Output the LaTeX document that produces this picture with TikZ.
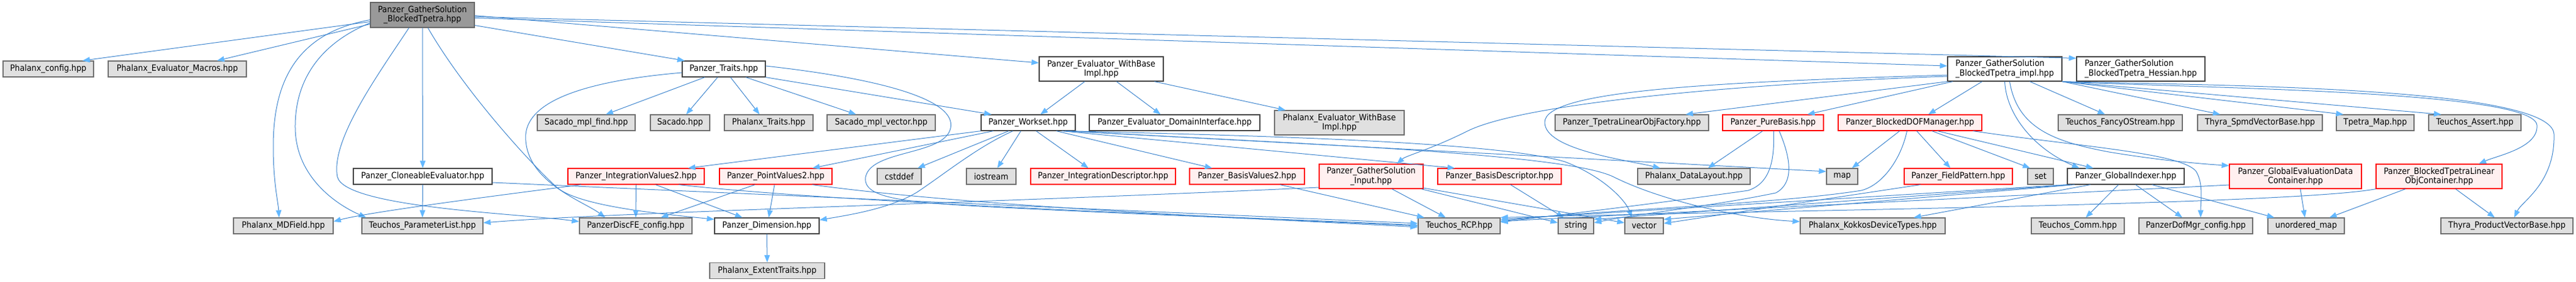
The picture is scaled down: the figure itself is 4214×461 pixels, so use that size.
\documentclass[tikz,border=0pt]{standalone}
\usepackage{fontspec}
\newfontfamily\dxfont{DejaVu Sans}[FakeStretch=0.9]
\usetikzlibrary{arrows.meta}
\definecolor{rootfill}{HTML}{999999}
\definecolor{rootdraw}{HTML}{666666}
\definecolor{extfill}{HTML}{E0E0E0}
\definecolor{extdraw}{HTML}{6E6E6E}
\definecolor{plaindraw}{HTML}{444444}
\definecolor{redfill}{HTML}{FFF0F0}
\definecolor{reddraw}{HTML}{FF0000}
\definecolor{edgeline}{HTML}{3F86CF}
\definecolor{edgetip}{HTML}{63B8FF}
\tikzset{
 basebox/.style={rectangle, inner sep=0pt, minimum height=26pt, line width=1.2pt, align=center, font=\dxfont\fontsize{14.2}{15.5}\selectfont, text=black},
 rootbox/.style={basebox, fill=rootfill, draw=rootdraw},
 extbox/.style={basebox, fill=extfill, draw=extdraw},
 plainbox/.style={basebox, fill=white, draw=plaindraw},
 redbox/.style={basebox, fill=redfill, draw=reddraw},
 tall/.style={minimum height=40pt},
 dep/.style={draw=edgeline, line width=1pt, -{Triangle[length=12pt,width=9pt,color=edgetip]}},
}
\begin{document}
\begin{tikzpicture}[x=1pt,y=-1pt]
\fill[white] (0,0) rectangle (4214,461);
\useasboundingbox (0,0) rectangle (4214,461);
% row 1
\node[rootbox, minimum width=170pt, minimum height=41pt] (root) at (691,24.5) {Panzer\_GatherSolution\\\_BlockedTpetra.hpp};
% row 2
\node[extbox, minimum width=148pt] (pcfg) at (79,113) {Phalanx\_config.hpp};
\node[extbox, minimum width=226pt] (pem) at (290,113) {Phalanx\_Evaluator\_Macros.hpp};
\node[plainbox, minimum width=136pt] (trt) at (1184,113) {Panzer\_Traits.hpp};
\node[plainbox, tall, minimum width=203pt] (ewb) at (1801.5,113) {Panzer\_Evaluator\_WithBase\\Impl.hpp};
\node[plainbox, tall, minimum width=187pt, align=left] (impl) at (3279.5,113) {Panzer\_GatherSolution\\\_BlockedTpetra\_impl.hpp};
\node[plainbox, tall, minimum width=210pt, align=left] (hess) at (3502,113) {Panzer\_GatherSolution\\\_BlockedTpetra\_Hessian.hpp};
% row 3
\node[extbox, minimum width=160pt] (smf) at (959,201) {Sacado\_mpl\_find.hpp};
\node[extbox, minimum width=97pt] (sac) at (1112.5,201) {Sacado.hpp};
\node[extbox, minimum width=145pt] (ptr) at (1257.5,201) {Phalanx\_Traits.hpp};
\node[extbox, minimum width=177pt] (smv) at (1441.5,201) {Sacado\_mpl\_vector.hpp};
\node[plainbox, minimum width=154pt] (wks) at (1682,201) {Panzer\_Workset.hpp};
\node[plainbox, minimum width=279pt] (edi) at (1921.5,201) {Panzer\_Evaluator\_DomainInterface.hpp};
\node[extbox, tall, minimum width=212pt] (pewb) at (2191,201) {Phalanx\_Evaluator\_WithBase\\Impl.hpp};
\node[extbox, minimum width=251pt] (tlof) at (2669.5,201) {Panzer\_TpetraLinearObjFactory.hpp};
\node[redbox, minimum width=165pt] (pb) at (2900.5,201) {Panzer\_PureBasis.hpp};
\node[redbox, minimum width=235pt] (bdof) at (3124.5,201) {Panzer\_BlockedDOFManager.hpp};
\node[extbox, minimum width=203pt] (tfo) at (3468.5,201) {Teuchos\_FancyOStream.hpp};
\node[extbox, minimum width=204pt] (tsvb) at (3697,201) {Thyra\_SpmdVectorBase.hpp};
\node[extbox, minimum width=127pt] (tmap) at (3885.5,201) {Tpetra\_Map.hpp};
\node[extbox, minimum width=151pt] (tas) at (4048.5,201) {Teuchos\_Assert.hpp};
% row 4
\node[plainbox, minimum width=227pt] (clo) at (691.5,289) {Panzer\_CloneableEvaluator.hpp};
\node[redbox, minimum width=223pt] (iv2) at (1040.5,289) {Panzer\_IntegrationValues2.hpp};
\node[redbox, minimum width=184pt] (pv2) at (1269,289) {Panzer\_PointValues2.hpp};
\node[extbox, minimum width=72pt] (csd) at (1471,289) {cstddef};
\node[extbox, minimum width=81pt] (ios) at (1621.5,289) {iostream};
\node[redbox, minimum width=237pt] (idesc) at (1804.5,289) {Panzer\_IntegrationDescriptor.hpp};
\node[redbox, minimum width=188pt] (bv2) at (2040,289) {Panzer\_BasisValues2.hpp};
\node[redbox, tall, minimum width=170pt] (gsi) at (2243,289) {Panzer\_GatherSolution\\\_Input.hpp};
\node[redbox, minimum width=202pt] (bdesc) at (2453,289) {Panzer\_BasisDescriptor.hpp};
\node[extbox, minimum width=184pt] (pdl) at (2771,289) {Phalanx\_DataLayout.hpp};
\node[extbox, minimum width=51pt] (map) at (3013.5,289) {map};
\node[redbox, minimum width=177pt] (fp) at (3203.5,289) {Panzer\_FieldPattern.hpp};
\node[extbox, minimum width=42pt] (set) at (3338,289) {set};
\node[plainbox, minimum width=191pt] (gi) at (3477.5,289) {Panzer\_GlobalIndexer.hpp};
\node[redbox, tall, minimum width=216pt] (gedc) at (3755,289) {Panzer\_GlobalEvaluationData\\Container.hpp};
\node[redbox, tall, minimum width=206pt] (btloc) at (3990,289) {Panzer\_BlockedTpetraLinear\\ObjContainer.hpp};
% row 5
\node[extbox, minimum width=163pt] (mdf) at (463.5,370) {Phalanx\_MDField.hpp};
\node[extbox, minimum width=198pt] (tpl) at (691,370) {Teuchos\_ParameterList.hpp};
\node[extbox, minimum width=184pt] (dfe) at (1040,370) {PanzerDiscFE\_config.hpp};
\node[plainbox, minimum width=171pt] (dim) at (1254.5,370) {Panzer\_Dimension.hpp};
\node[extbox, minimum width=134pt] (rcp) at (2387,370) {Teuchos\_RCP.hpp};
\node[extbox, minimum width=58pt] (str) at (2578,370) {string};
\node[extbox, minimum width=63pt] (vec) at (2689.5,370) {vector};
\node[extbox, minimum width=237pt] (kdt) at (3063.5,370) {Phalanx\_KokkosDeviceTypes.hpp};
\node[extbox, minimum width=152pt] (tcomm) at (3399,370) {Teuchos\_Comm.hpp};
\node[extbox, minimum width=186pt] (dmc) at (3592,370) {PanzerDofMgr\_config.hpp};
\node[extbox, minimum width=125pt] (umap) at (3772.5,370) {unordered\_map};
\node[extbox, minimum width=216pt] (tpvb) at (4101,370) {Thyra\_ProductVectorBase.hpp};
% row 6
\node[extbox, minimum width=188pt] (et) at (1255,443.5) {Phalanx\_ExtentTraits.hpp};

% ---- edges from root
\draw[dep] ([yshift=-11pt]root.west) -- ([xshift=56pt]pcfg.north);
\draw[dep] ([yshift=-15pt]root.west) -- ([xshift=65pt]pem.north);
\draw[dep] ([yshift=-8pt]root.west) .. controls (480,55) and (447,140) .. (447,240) .. controls (447,300) and (455,330) .. ([xshift=-7pt]mdf.north);
\draw[dep] ([yshift=-13pt]root.west) .. controls (515,75) and (482,140) .. (483,210) .. controls (484,290) and (550,335) .. ([xshift=-92pt]tpl.north);
\draw[dep] ([xshift=-22pt]root.south) .. controls (620,120) and (540,230) .. (552,290) .. controls (565,340) and (850,350) .. ([yshift=7pt]dfe.west);
\draw[dep] ([xshift=9pt]root.south) .. controls (760,150) and (870,270) .. (911,307) .. controls (950,340) and (1100,352) .. ([yshift=-3pt]dim.north west);
\draw[dep] (root.south) -- (clo.north);
\draw[dep] ([yshift=-17pt]root.east) -- ([xshift=-64pt]trt.north);
\draw[dep] ([yshift=-1pt]root.east) -- ([yshift=10pt]ewb.west);
\draw[dep] ([yshift=-5pt]root.east) -- ([yshift=5pt]impl.west);
\draw[dep] ([yshift=-3pt]root.east) -- ([yshift=-3pt]hess.north west);
% ---- Panzer_Traits
\draw[dep] ([yshift=-6pt]trt.west) .. controls (930,135) and (855,175) .. (860,230) .. controls (865,300) and (955,330) .. ([xshift=-50pt]dfe.north);
\draw[dep] ([xshift=-31pt]trt.south) -- ([xshift=32pt]smf.north);
\draw[dep] ([xshift=-10pt]trt.south) -- ([xshift=10pt]sac.north);
\draw[dep] ([xshift=11pt]trt.south) -- ([xshift=-15pt]ptr.north);
\draw[dep] ([xshift=36pt]trt.south) -- ([xshift=-41pt]smv.north);
\draw[dep] (trt.south east) -- ([xshift=-60pt]wks.north);
\draw[dep] ([yshift=5pt]trt.east) .. controls (1450,130) and (1565,165) .. (1555,210) .. controls (1545,255) and (1425,245) .. (1416,290) .. controls (1410,330) and (1500,333) .. (1700,343) .. controls (1950,355) and (2200,364) .. (rcp.west);
% ---- Evaluator_WithBaseImpl
\draw[dep] ([xshift=-27pt]ewb.south) -- ([xshift=20pt]wks.north);
\draw[dep] ([xshift=25pt]ewb.south) -- ([xshift=-23pt]edi.north);
\draw[dep] ([xshift=87pt]ewb.south) -- ([xshift=-88pt]pewb.north);
% ---- CloneableEvaluator
\draw[dep] (clo.south) -- (tpl.north);
\draw[dep] ([yshift=-10pt]clo.east) -- ([yshift=4pt]rcp.west);
% ---- Workset
\draw[dep] (wks.south west) -- ([xshift=85pt]iv2.north);
\draw[dep] ([xshift=-57pt]wks.south) -- ([xshift=60pt]pv2.north);
\draw[dep] ([xshift=-32pt]wks.south) -- ([xshift=30pt]csd.north);
\draw[dep] ([xshift=-25pt]wks.south) .. controls (1600,240) and (1545,285) .. (1500,315) .. controls (1455,342) and (1390,352) .. ([yshift=-4pt]dim.north east);
\draw[dep] ([xshift=-12pt]wks.south) -- ([xshift=10pt]ios.north);
\draw[dep] ([xshift=13pt]wks.south) -- ([xshift=-24pt]idesc.north);
\draw[dep] ([xshift=46pt]wks.south) -- ([xshift=-57pt]bv2.north);
\draw[dep] ([xshift=55pt]wks.south) -- ([xshift=-73pt]bdesc.north);
\draw[dep] ([xshift=60pt]wks.south) -- ([yshift=8pt]map.west);
\draw[dep] ([xshift=64pt]wks.south) .. controls (2050,222) and (2450,232) .. (2560,265) .. controls (2625,290) and (2660,330) .. ([xshift=-20pt]vec.north);
\draw[dep] ([xshift=68pt]wks.south) .. controls (2100,235) and (2560,250) .. (2640,290) .. controls (2720,330) and (2850,358) .. ([yshift=7pt]kdt.west);
% ---- IntegrationValues2 / PointValues2 / BasisValues2
\draw[dep] ([xshift=-90pt]iv2.south) .. controls (800,322) and (600,348) .. ([yshift=7pt]mdf.east);
\draw[dep] (iv2.south) -- (dfe.north);
\draw[dep] ([xshift=32pt]iv2.south) -- ([xshift=-40pt]dim.north);
\draw[dep] ([xshift=70pt]iv2.south) .. controls (1400,335) and (2100,358) .. ([yshift=1pt]rcp.west);
\draw[dep] ([xshift=-34pt]pv2.south) -- ([xshift=41pt]dfe.north);
\draw[dep] ([xshift=-2pt]pv2.south) -- ([xshift=3pt]dim.north);
\draw[dep] ([xshift=60pt]pv2.south) .. controls (1600,340) and (2100,360) .. ([yshift=-2pt]rcp.west);
\draw[dep] ([xshift=54pt]bv2.south) -- ([xshift=-57pt]rcp.north);
% ---- GatherSolution_Input / BasisDescriptor
\draw[dep] ([yshift=-18pt]gsi.west) .. controls (1600,333) and (1000,348) .. ([yshift=5pt]tpl.east);
\draw[dep] ([xshift=34pt]gsi.south) -- ([xshift=-22pt]rcp.north);
\draw[dep] ([xshift=82pt]gsi.south) -- ([yshift=5pt]str.west);
\draw[dep] ([yshift=-19pt]gsi.east) -- ([yshift=5pt]vec.west);
\draw[dep] ([xshift=18pt]bdesc.south) -- ([xshift=-20pt]str.north);
% ---- impl
\draw[dep] ([yshift=-12pt]impl.west) .. controls (2900,135) and (2500,165) .. (2400,215) .. controls (2340,245) and (2300,255) .. ([xshift=42pt]gsi.north);
\draw[dep] ([yshift=-10pt]impl.west) .. controls (2780,135) and (2528,150) .. (2527,200) .. controls (2526,245) and (2660,262) .. ([xshift=-55pt]pdl.north);
\draw[dep] (impl.south west) -- ([xshift=88pt]tlof.north);
\draw[dep] ([xshift=9pt]impl.south west) -- ([xshift=56pt]pb.north);
\draw[dep] ([xshift=57pt]impl.south west) -- ([xshift=30pt]bdof.north);
\draw[dep] (impl.south) .. controls (3282,190) and (3330,245) .. ([xshift=-76pt]gi.north);
\draw[dep] ([xshift=8pt]impl.south) .. controls (3300,210) and (3360,232) .. (3450,249) .. controls (3540,264) and (3610,269) .. ([yshift=-3pt]gedc.north west);
\draw[dep] ([xshift=41pt]impl.south) -- ([xshift=-25pt]tfo.north);
\draw[dep] (impl.south east) -- ([xshift=-65pt]tsvb.north);
\draw[dep] (impl.south east) -- ([xshift=-52pt]tmap.north);
\draw[dep] (impl.south east) -- ([xshift=-55pt]tas.north);
\draw[dep] (impl.south east) .. controls (3600,145) and (4145,148) .. (4150,205) .. controls (4153,242) and (4085,255) .. ([xshift=65pt]btloc.north);
\draw[dep] (impl.south east) .. controls (3600,140) and (4175,140) .. (4178,220) .. controls (4180,300) and (4125,330) .. ([xshift=12pt]tpvb.north);
% ---- BlockedDOFManager
\draw[dep] ([xshift=-17pt]bdof.south) -- ([xshift=16pt]map.north);
\draw[dep] ([xshift=-5pt]bdof.south) .. controls (3110,260) and (3080,303) .. (3045,312) .. controls (2900,335) and (2600,345) .. ([yshift=8pt]rcp.east);
\draw[dep] ([xshift=11pt]bdof.south) -- ([xshift=-13pt]fp.north);
\draw[dep] ([xshift=36pt]bdof.south) -- ([xshift=-17pt]set.north);
\draw[dep] ([xshift=45pt]bdof.south) -- ([xshift=-53pt]gi.north);
\draw[dep] ([xshift=103pt]bdof.south) .. controls (3400,240) and (3565,250) .. (3592,280) .. controls (3605,300) and (3600,330) .. ([xshift=8pt]dmc.north);
% ---- PureBasis
\draw[dep] ([xshift=-17pt]pb.south) -- ([xshift=23pt]pdl.north);
\draw[dep] ([xshift=1pt]pb.south) .. controls (2903,265) and (2895,300) .. (2860,312) .. controls (2700,335) and (2550,352) .. ([yshift=6pt]rcp.east);
\draw[dep] ([xshift=10pt]pb.south) .. controls (2930,260) and (2935,300) .. (2905,316) .. controls (2800,338) and (2680,350) .. ([yshift=5pt]str.east);
% ---- FieldPattern
\draw[dep] ([xshift=-62pt]fp.south) -- ([yshift=4pt]vec.east);
% ---- GlobalIndexer
\draw[dep] ([xshift=-12pt]gi.south) -- ([xshift=13pt]tcomm.north);
\draw[dep] ([xshift=16pt]gi.south) -- ([xshift=-22pt]dmc.north);
\draw[dep] ([xshift=43pt]gi.south) -- ([xshift=-52pt]umap.north);
\draw[dep] ([xshift=-58pt]gi.south) -- ([xshift=67pt]kdt.north);
\draw[dep] (gi.south west) -- ([yshift=-3pt]rcp.north east);
\draw[dep] ([xshift=-90pt]gi.south) -- ([yshift=-3pt]str.north east);
\draw[dep] ([xshift=-84pt]gi.south) -- ([yshift=-3pt]vec.north east);
% ---- GlobalEvaluationDataContainer
\draw[dep] ([xshift=8pt]gedc.south) -- ([xshift=-2pt]umap.north);
\draw[dep] ([yshift=-14pt]gedc.west) -- ([yshift=-6pt]rcp.north east);
% ---- BlockedTpetraLinearObjContainer
\draw[dep] ([xshift=-55pt]btloc.south) -- ([xshift=38pt]umap.north);
\draw[dep] ([xshift=27pt]btloc.south) -- ([xshift=-20pt]tpvb.north);
\draw[dep] (btloc.south west) .. controls (3750,335) and (2900,345) .. (rcp.north east);
% ---- Dimension
\draw[dep] (dim.south) -- (et.north);
\end{tikzpicture}
\end{document}
